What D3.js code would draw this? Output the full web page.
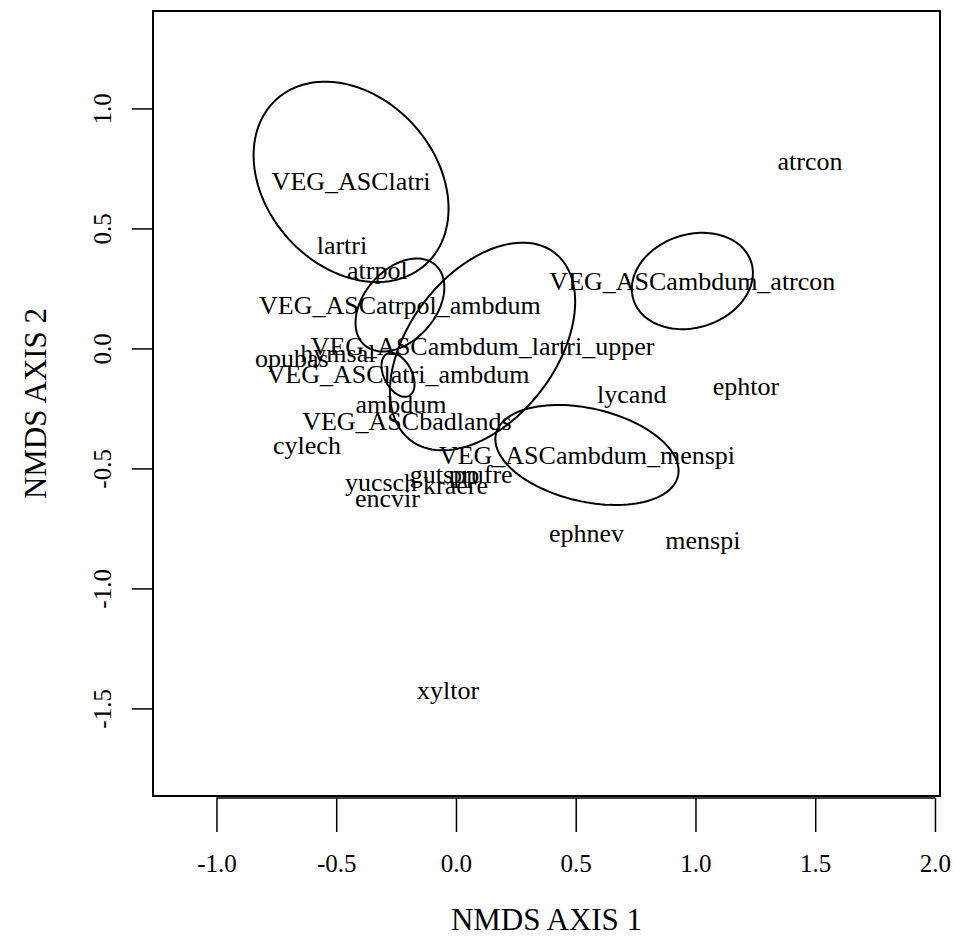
<!DOCTYPE html>
<html>
<head>
<meta charset="utf-8">
<script src="https://cdn.jsdelivr.net/npm/d3@7"></script>
<style>
  body { margin: 0; background: #fff; }
  text { font-family: "Liberation Serif", "DejaVu Serif", serif; fill: #000; }
</style>
</head>
<body>
<svg id="chart" width="954" height="951"></svg>
<script>
// group centroids (ordiellipse labels) and ellipse shape, NMDS units
const groupNames = ['VEG_ASClatri', 'VEG_ASCatrpol_ambdum', 'VEG_ASCambdum_lartri_upper',
  'VEG_ASClatri_ambdum', 'VEG_ASCbadlands', 'VEG_ASCambdum_menspi', 'VEG_ASCambdum_atrcon']
const groupX = [-0.438, -0.234, 0.111, -0.242, -0.205, 0.547, 0.987]
const groupY = [0.694, 0.181, 0.008, -0.110, -0.304, -0.444, 0.281]
const ellipseA = [0.464, 0.223, 0.493, 0.099, null, 0.390, 0.258]
const ellipseB = [0.353, 0.149, 0.306, 0.058, null, 0.194, 0.194]
const ellipseAngle = [-47.7, 48.3, 52.3, -62.3, null, -13, 17.7] // degrees

// species scores
const speciesNames = ['lartri', 'atrpol', 'opubas', 'hymsal', 'ambdum', 'cylech', 'yucsch',
  'encvir', 'kraere', 'gutspp', 'prufre', 'lycand', 'ephtor', 'ephnev', 'menspi', 'atrcon', 'xyltor']
const speciesX = [-0.476, -0.328, -0.685, -0.493, -0.230, -0.622, -0.313,
  -0.286, -0.002, -0.048, 0.104, 0.734, 1.211, 0.545, 1.031, 1.478, -0.033]
const speciesY = [0.431, 0.325, -0.042, -0.019, -0.235, -0.406, -0.558,
  -0.623, -0.571, -0.527, -0.527, -0.190, -0.158, -0.769, -0.802, 0.781, -1.423]

const xTicks = [-1.0, -0.5, 0.0, 0.5, 1.0, 1.5, 2.0]
const yTicks = [-1.5, -1.0, -0.5, 0.0, 0.5, 1.0]

const box = { left: 153, top: 11, right: 940, bottom: 796 }
const svg = d3.select('#chart')

const x = d3.scaleLinear().domain([-1.265, 2.021]).range([box.left, box.right])
const y = d3.scaleLinear().domain([-1.865, 1.406]).range([box.bottom, box.top])

// R style tick labels: plain hyphen, one decimal
const fmt = d => d.toFixed(1)

// frame
svg.append('rect')
  .attr('x', box.left).attr('y', box.top)
  .attr('width', box.right - box.left).attr('height', box.bottom - box.top)
  .attr('fill', 'none').attr('stroke', '#000').attr('stroke-width', 2)

// x axis
const xAxis = svg.append('g')
  .attr('transform', `translate(0,${box.bottom + 2})`)
  .call(d3.axisBottom(x).tickValues(xTicks).tickSize(34).tickPadding(22)
    .tickFormat(fmt))
xAxis.select('.domain').remove()
xAxis.selectAll('line').attr('stroke-width', 1.5)
xAxis.selectAll('text')
  .attr('font-size', 25)
  .attr('font-family', 'Liberation Serif')
  .attr('fill', '#000')
svg.append('line')
  .attr('x1', x(-1)).attr('x2', x(2))
  .attr('y1', box.bottom + 2).attr('y2', box.bottom + 2)
  .attr('stroke', '#000').attr('stroke-width', 1.5)

// y axis
const yAxis = svg.append('g')
  .attr('transform', `translate(${box.left - 1},0)`)
  .call(d3.axisLeft(y).tickValues(yTicks).tickSize(20).tickFormat(fmt))
yAxis.select('.domain').remove()
yAxis.selectAll('line').attr('stroke-width', 1.5)
yAxis.selectAll('text').remove()
yAxis.selectAll('.tick').append('text')
  .attr('transform', 'translate(-50,0) rotate(-90)')
  .attr('text-anchor', 'middle')
  .attr('dy', '0.35em')
  .attr('font-size', 25)
  .attr('font-family', 'Liberation Serif')
  .attr('fill', '#000')
  .text(fmt)

// axis titles
svg.append('text')
  .attr('x', (box.left + box.right) / 2).attr('y', 919)
  .attr('text-anchor', 'middle').attr('dy', '0.35em')
  .attr('font-size', 31)
  .text('NMDS AXIS 1')
svg.append('text')
  .attr('transform', `translate(35,${(box.top + box.bottom) / 2}) rotate(-90)`)
  .attr('text-anchor', 'middle').attr('dy', '0.35em')
  .attr('font-size', 31)
  .text('NMDS AXIS 2')

// ellipses
const line = d3.line().x(p => x(p[0])).y(p => y(p[1])).curve(d3.curveLinearClosed)
const steps = d3.range(0, 120).map(i => i / 120 * 2 * Math.PI)

groupNames.forEach((name, i) => {
  if (ellipseA[i] == null) return
  const th = ellipseAngle[i] * Math.PI / 180
  const pts = steps.map(t => {
    const u = ellipseA[i] * Math.cos(t)
    const v = ellipseB[i] * Math.sin(t)
    return [groupX[i] + u * Math.cos(th) - v * Math.sin(th),
      groupY[i] + u * Math.sin(th) + v * Math.cos(th)]
  })
  svg.append('path')
    .attr('d', line(pts))
    .attr('fill', 'none')
    .attr('stroke', '#000')
    .attr('stroke-width', 2)
})

// species labels
svg.append('g').selectAll('text')
  .data(speciesNames)
  .enter().append('text')
  .attr('x', (d, i) => x(speciesX[i]))
  .attr('y', (d, i) => y(speciesY[i]))
  .attr('dy', '0.33em')
  .attr('text-anchor', 'middle')
  .attr('font-size', 26)
  .text(d => d)

// group labels
svg.append('g').selectAll('text')
  .data(groupNames)
  .enter().append('text')
  .attr('x', (d, i) => x(groupX[i]))
  .attr('y', (d, i) => y(groupY[i]))
  .attr('dy', '0.33em')
  .attr('text-anchor', 'middle')
  .attr('font-size', 26)
  .text(d => d)
</script>
</body>
</html>
